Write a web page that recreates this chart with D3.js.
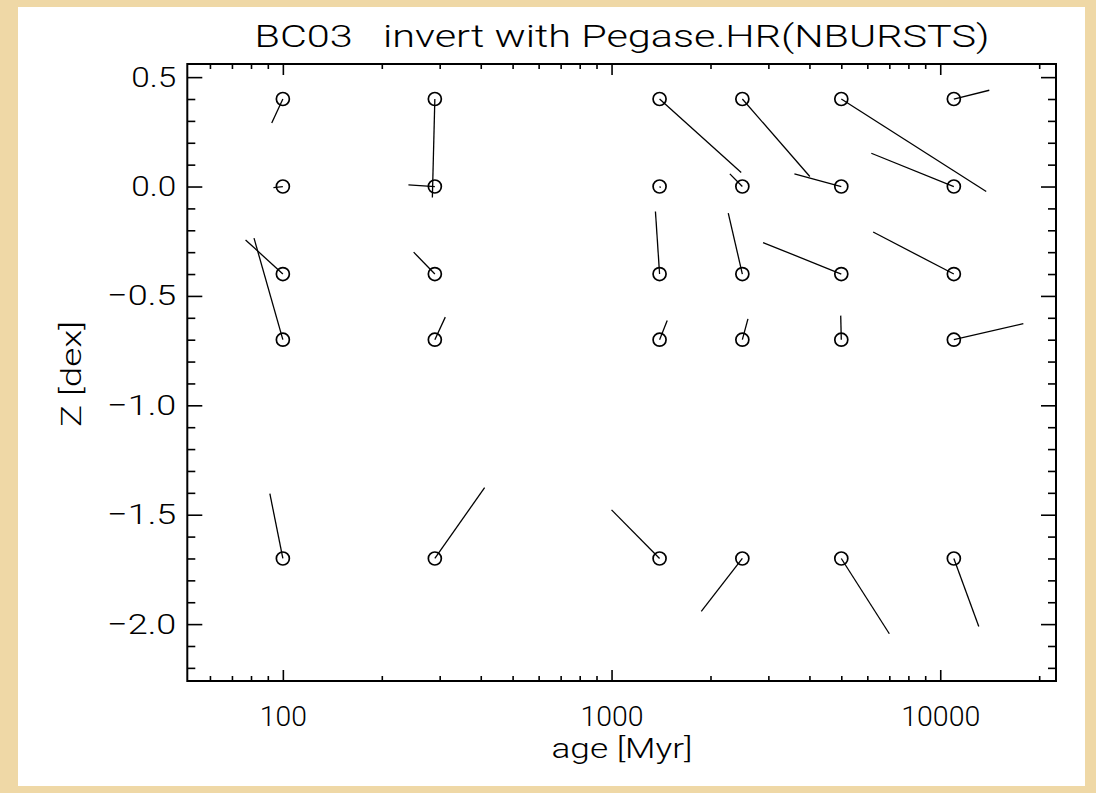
<!DOCTYPE html>
<html>
<head>
<meta charset="utf-8">
<script src="https://cdn.jsdelivr.net/npm/d3@7"></script>
<style>
  html, body { margin: 0; padding: 0; background: #efd8a6; }
  svg { display: block; }
  text { white-space: pre; }
</style>
</head>
<body>
<svg id="chart" width="1096" height="793"></svg>
<script>
// ---------------- data ----------------
const titleText = "BC03   invert with Pegase.HR(NBURSTS)";
const xLabelText = "age [Myr]";
const yLabelText = "Z [dex]";

// input grid (model ages in Myr and metallicities in dex)
const inputAges = [100, 290, 1400, 2500, 5000, 11000];
const inputZ = [0.4, 0.0, -0.4, -0.7, -1.7];

// recovered ages, one row per input metallicity, one column per input age
const recoveredAge = [
  [92.5, 285, 2480, 4010, 13800, 14100],
  [93.6, 241, 1410, 2290, 3600, 6170],
  [77, 250, 1360, 2265, 2890, 6250],
  [81.7, 312, 1477, 2600, 4980, 17900],
  [91.3, 411, 1000, 1875, 7000, 13100]
];
// recovered metallicities, same layout
const recoveredZ = [
  [0.29, -0.05, 0.064, 0.046, -0.023, 0.44],
  [-0.005, 0.008, -0.005, 0.058, 0.058, 0.152],
  [-0.244, -0.30, -0.114, -0.122, -0.256, -0.208],
  [-0.236, -0.597, -0.612, -0.605, -0.59, -0.627],
  [-1.404, -1.376, -1.478, -1.942, -2.044, -2.011]
];

const xMajorTicks = [100, 1000, 10000];
const xTickLabels = ["100", "1000", "10000"];
const yMajorTicks = [0.5, 0.0, -0.5, -1.0, -1.5, -2.0];
const yTickLabels = ["0.5", "0.0", "\u22120.5", "\u22121.0", "\u22121.5", "\u22122.0"];

// ---------------- layout ----------------
const svg = d3.select("#chart");
const W = 1096, H = 793;
const L = 187.3, R = 1056, T = 64, B = 681;
const FONT = "Roboto, 'Liberation Sans', Arial, sans-serif";
const FW = 300;

// page: beige border with white sheet
svg.append("rect").attr("x", 0).attr("y", 0).attr("width", W).attr("height", H).attr("fill", "#efd8a6");
svg.append("rect").attr("x", 18).attr("y", 7).attr("width", 1067).attr("height", 779).attr("fill", "#ffffff");

const x = d3.scaleLog().domain([51.2, 22500]).range([L, R]);
const y = d3.scaleLinear().domain([-2.26, 0.56]).range([B, T]);

const xMinor = x.ticks().filter(v => !xMajorTicks.includes(v));
const yMinor = y.ticks(30).filter(v => !yMajorTicks.some(m => Math.abs(m - v) < 1e-9));

function styleAxis(g) {
  g.select(".domain").remove();
  g.selectAll(".tick line").attr("stroke", "#000").attr("stroke-width", 1.6);
}

// bottom axis (major with labels)
const gxB = svg.append("g").attr("transform", `translate(0,${B})`)
  .call(d3.axisBottom(x).tickValues(xMajorTicks).tickSize(-11).tickPadding(25)
    .tickFormat((d, i) => xTickLabels[i]));
styleAxis(gxB);
svg.append("g").attr("transform", `translate(0,${B})`)
  .call(d3.axisBottom(x).tickValues(xMinor).tickSize(-5).tickFormat(""))
  .call(styleAxis);
// top axis
svg.append("g").attr("transform", `translate(0,${T})`)
  .call(d3.axisTop(x).tickValues(xMajorTicks).tickSize(-11).tickFormat(""))
  .call(styleAxis);
svg.append("g").attr("transform", `translate(0,${T})`)
  .call(d3.axisTop(x).tickValues(xMinor).tickSize(-5).tickFormat(""))
  .call(styleAxis);

// left axis (major with labels)
const gyL = svg.append("g").attr("transform", `translate(${L},0)`)
  .call(d3.axisLeft(y).tickValues(yMajorTicks).tickSize(-15).tickPadding(11)
    .tickFormat((d, i) => yTickLabels[i]));
styleAxis(gyL);
svg.append("g").attr("transform", `translate(${L},0)`)
  .call(d3.axisLeft(y).tickValues(yMinor).tickSize(-8).tickFormat(""))
  .call(styleAxis);
// right axis
svg.append("g").attr("transform", `translate(${R},0)`)
  .call(d3.axisRight(y).tickValues(yMajorTicks).tickSize(-15).tickFormat(""))
  .call(styleAxis);
svg.append("g").attr("transform", `translate(${R},0)`)
  .call(d3.axisRight(y).tickValues(yMinor).tickSize(-8).tickFormat(""))
  .call(styleAxis);

// tick label styling
gxB.selectAll(".tick text")
  .attr("font-family", FONT).attr("font-size", 28).attr("fill", "#000")
  .attr("font-weight", FW)
  .attr("textLength", (d, i) => [47, 63, 79][i]).attr("lengthAdjust", "spacingAndGlyphs");
gyL.selectAll(".tick text")
  .attr("font-family", FONT).attr("font-size", 28).attr("fill", "#000")
  .attr("font-weight", FW)
  .attr("textLength", (d, i) => (yTickLabels[i].length === 3 ? 45 : 69)).attr("lengthAdjust", "spacingAndGlyphs");

// frame
svg.append("rect").attr("x", L).attr("y", T).attr("width", R - L).attr("height", B - T)
  .attr("fill", "none").attr("stroke", "#000").attr("stroke-width", 2);

// ---------------- marks ----------------
const pts = [];
inputZ.forEach((z, i) => {
  inputAges.forEach((a, j) => {
    pts.push({ a, z, ra: recoveredAge[i][j], rz: recoveredZ[i][j] });
  });
});

svg.append("g").selectAll("line").data(pts).join("line")
  .attr("x1", d => x(d.a)).attr("y1", d => y(d.z))
  .attr("x2", d => x(d.ra)).attr("y2", d => y(d.rz))
  .attr("stroke", "#000").attr("stroke-width", 1.3);

svg.append("g").selectAll("circle").data(pts).join("circle")
  .attr("cx", d => x(d.a)).attr("cy", d => y(d.z)).attr("r", 6.5)
  .attr("fill", "none").attr("stroke", "#000").attr("stroke-width", 1.7);

// ---------------- titles ----------------
svg.append("text").attr("x", 622).attr("y", 47).attr("text-anchor", "middle")
  .attr("font-family", FONT).attr("font-size", 32).attr("font-weight", FW)
  .attr("textLength", 735).attr("lengthAdjust", "spacingAndGlyphs")
  .text(titleText);

svg.append("text").attr("x", 622).attr("y", 758).attr("text-anchor", "middle")
  .attr("font-family", FONT).attr("font-size", 28).attr("font-weight", FW)
  .attr("textLength", 141).attr("lengthAdjust", "spacingAndGlyphs")
  .text(xLabelText);

svg.append("text").attr("transform", "translate(81,374) rotate(-90)").attr("text-anchor", "middle")
  .attr("font-family", FONT).attr("font-size", 28).attr("font-weight", FW)
  .attr("textLength", 106).attr("lengthAdjust", "spacingAndGlyphs")
  .text(yLabelText);
</script>
</body>
</html>
